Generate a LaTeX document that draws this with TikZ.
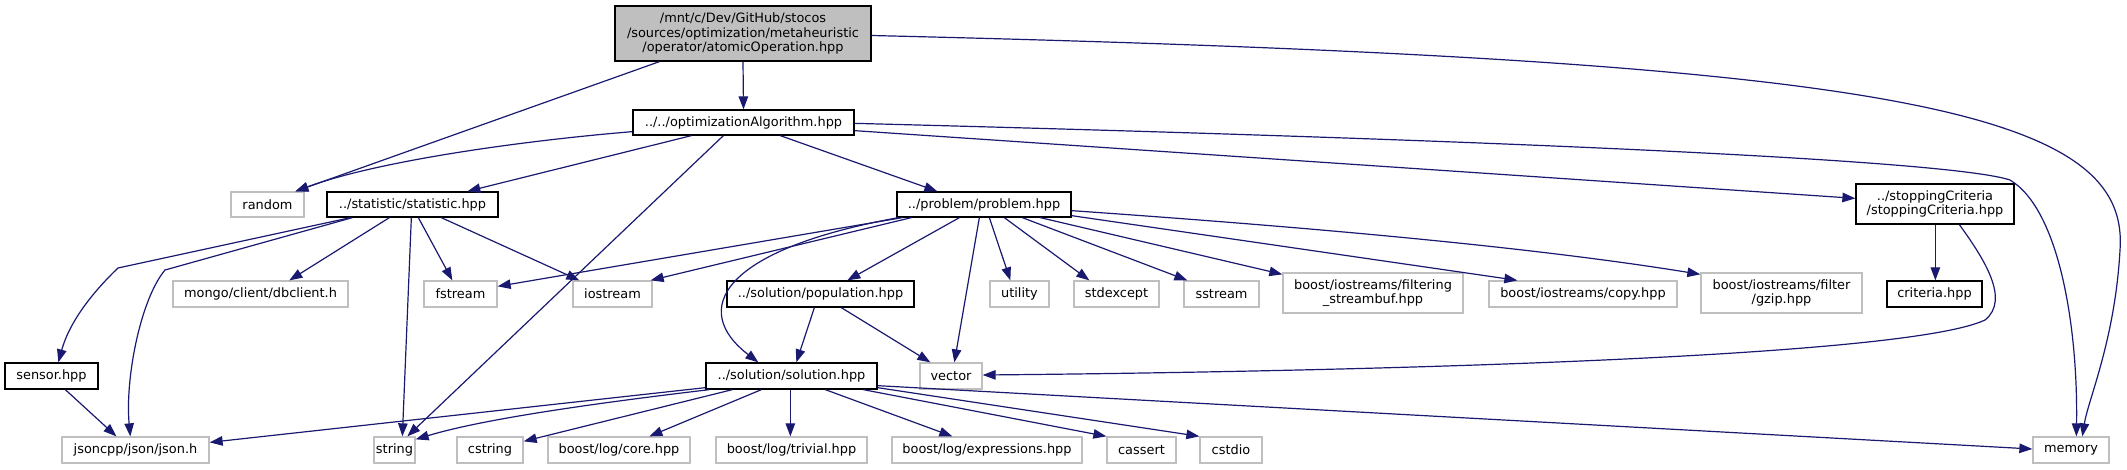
\documentclass[tikz,border=0pt]{standalone}
\usepackage{fontspec}
\setmainfont{DejaVu Sans}
\usetikzlibrary{arrows.meta,calc}
\definecolor{edgec}{HTML}{191970}
\definecolor{extc}{HTML}{BFBFBF}
\newcommand{\dxnode}[7]{\node[#6, minimum width={#4-#2}, minimum height={#5-#3}] (#1) at ({(#2+#4)/2},{(#3+#5)/2}) {#7};}
\begin{document}
\begin{tikzpicture}[x=1pt,y=-1pt,
  box/.style={rectangle, inner sep=0pt, align=center, font=\fontsize{12.9}{14.5}\selectfont},
  doc/.style={box, draw=black, line width=1.3pt, fill=white},
  ext/.style={box, draw=extc, line width=1.3pt, fill=white},
  mainn/.style={box, draw=black, line width=1.3pt, fill=extc},
  dep/.style={draw=edgec, line width=1.2pt, -{Triangle[length=13pt,width=9.5pt]}}]
\useasboundingbox (0,0) rectangle (2127,469);
\dxnode{main}{615}{6}{871}{61}{mainn}{/mnt/c/Dev/GitHub/stocos\\/sources/optimization/metaheuristic\\/operator/atomicOperation.hpp}
\dxnode{optalg}{633}{110}{854}{135}{doc}{../../optimizationAlgorithm.hpp}
\dxnode{random}{231}{192}{304}{217}{ext}{random}
\dxnode{stat}{327}{192}{498}{217}{doc}{../statistic/statistic.hpp}
\dxnode{problem}{897}{192}{1071}{217}{doc}{../problem/problem.hpp}
\dxnode{stop}{1856}{184}{2014}{224}{doc}{../stoppingCriteria\\/stoppingCriteria.hpp}
\dxnode{mongo}{173}{281}{348}{307}{ext}{mongo/client/dbclient.h}
\dxnode{fstream}{424}{281}{497}{307}{ext}{fstream}
\dxnode{iostream}{573}{281}{652}{307}{ext}{iostream}
\dxnode{pop}{727}{281}{914}{307}{doc}{../solution/population.hpp}
\dxnode{utility}{990}{281}{1049}{307}{ext}{utility}
\dxnode{stdexcept}{1074}{281}{1159}{307}{ext}{stdexcept}
\dxnode{sstream}{1184}{281}{1259}{307}{ext}{sstream}
\dxnode{filtering}{1283}{273}{1463}{313}{ext}{boost/iostreams/filtering\\\_streambuf.hpp}
\dxnode{copy}{1489}{281}{1677}{307}{ext}{boost/iostreams/copy.hpp}
\dxnode{gzip}{1701}{273}{1862}{313}{ext}{boost/iostreams/filter\\/gzip.hpp}
\dxnode{criteria}{1887}{281}{1982}{307}{doc}{criteria.hpp}
\dxnode{sensor}{5}{363}{98}{389}{doc}{sensor.hpp}
\dxnode{solution}{706}{363}{877}{389}{doc}{../solution/solution.hpp}
\dxnode{vector}{920}{363}{982}{389}{ext}{vector}
\dxnode{json}{62}{437}{209}{463}{ext}{jsoncpp/json/json.h}
\dxnode{string}{374}{437}{415}{463}{ext}{string}
\dxnode{cstring}{457}{437}{523}{463}{ext}{cstring}
\dxnode{core}{548}{437}{690}{463}{ext}{boost/log/core.hpp}
\dxnode{trivial}{716}{437}{867}{463}{ext}{boost/log/trivial.hpp}
\dxnode{expr}{892}{437}{1082}{463}{ext}{boost/log/expressions.hpp}
\dxnode{cassert}{1107}{437}{1176}{463}{ext}{cassert}
\dxnode{cstdio}{1200}{437}{1262}{463}{ext}{cstdio}
\dxnode{memory}{2033}{437}{2109}{463}{ext}{memory}
% main
\draw[dep] (main.south) -- (optalg.north);
\draw[dep] ($(main.south west)+(45,0)$) -- ($(random.north west)+(65,0)$);
\draw[dep] ($(main.east)+(0,2)$) .. controls (1900,60) and (2130,110) .. (2120,250) .. controls (2115,340) and (2088,400) .. ($(memory.north west)+(50,0)$);
% optimizationAlgorithm
\draw[dep] ($(optalg.south west)+(0,-4)$) .. controls (530,140) and (380,160) .. ($(random.north west)+(65,0)$);
\draw[dep] ($(optalg.south west)+(59,0)$) -- ($(stat.north west)+(141,0)$);
\draw[dep] ($(optalg.south west)+(91,0)$) -- ($(string.north west)+(34,0)$);
\draw[dep] ($(optalg.south west)+(148,0)$) -- ($(problem.north west)+(41,0)$);
\draw[dep] ($(optalg.south east)+(0,-5)$) -- ($(stop.north west)+(0,15)$);
\draw[dep] ($(optalg.north east)+(0,14)$) .. controls (1500,140) and (1950,160) .. (2010,180) .. controls (2060,210) and (2078,330) .. ($(memory.north west)+(44,0)$);
% statistic
\draw[dep] ($(stat.south west)+(24,0)$) -- (118,268) .. controls (95,290) and (70,320) .. ($(sensor.north west)+(54,0)$);
\draw[dep] ($(stat.south west)+(26,0)$) -- (165,270) .. controls (140,300) and (125,380) .. ($(json.north west)+(69,0)$);
\draw[dep] ($(stat.south west)+(63,0)$) -- ($(mongo.north west)+(117,0)$);
\draw[dep] ($(stat.south west)+(85,0)$) -- ($(string.north west)+(29,0)$);
\draw[dep] ($(stat.south west)+(92,0)$) -- ($(fstream.north west)+(29,0)$);
\draw[dep] ($(stat.south west)+(115,0)$) -- ($(iostream.north west)+(7,0)$);
% problem
\draw[dep] ($(problem.south west)+(6,0)$) -- ($(fstream.north east)+(0,6)$);
\draw[dep] ($(problem.south west)+(15,0)$) -- ($(iostream.north east)+(-2,0)$);
\draw[dep] ($(problem.south west)+(2,0)$) .. controls (720,250) and (690,310) .. ($(solution.north west)+(53,0)$);
\draw[dep] ($(problem.south west)+(63,0)$) -- ($(pop.north west)+(121,0)$);
\draw[dep] ($(problem.south west)+(83,0)$) -- ($(vector.north west)+(35,0)$);
\draw[dep] ($(problem.south west)+(93,0)$) -- ($(utility.north west)+(21,0)$);
\draw[dep] ($(problem.south west)+(108,0)$) -- ($(stdexcept.north west)+(16,0)$);
\draw[dep] ($(problem.south west)+(126,0)$) -- ($(sstream.north west)+(4,0)$);
\draw[dep] ($(problem.south west)+(144,0)$) -- ($(filtering.north west)+(0,2)$);
\draw[dep] ($(problem.south east)+(0,-2)$) -- ($(copy.north west)+(29,0)$);
\draw[dep] ($(problem.south east)+(0,-7)$) .. controls (1350,230) and (1550,250) .. ($(gzip.north west)+(0,2)$);
% population
\draw[dep] ($(pop.south west)+(88,0)$) -- ($(solution.north west)+(91,0)$);
\draw[dep] ($(pop.south west)+(115,0)$) -- ($(vector.north west)+(11,0)$);
% stoppingCriteria
\draw[dep] ($(stop.south west)+(80,0)$) -- ($(criteria.north west)+(49,0)$);
\draw[dep] ($(stop.south west)+(104,0)$) .. controls (1985,260) and (2010,300) .. (1985,320) .. controls (1900,360) and (1300,372) .. ($(vector.east)+(0,-1)$);
% sensor
\draw[dep] ($(sensor.south west)+(61,0)$) -- ($(json.north west)+(55,0)$);
% solution
\draw[dep] ($(solution.south west)+(0,-2)$) -- ($(json.north east)+(0,6)$);
\draw[dep] ($(solution.south west)+(4,0)$) .. controls (580,405) and (480,420) .. ($(string.north east)+(0,3)$);
\draw[dep] ($(solution.south west)+(27,0)$) -- ($(cstring.north east)+(0,5)$);
\draw[dep] ($(solution.south west)+(56,0)$) -- ($(core.north west)+(102,0)$);
\draw[dep] ($(solution.south west)+(85,0)$) -- ($(trivial.north west)+(75,0)$);
\draw[dep] ($(solution.south west)+(120,0)$) -- ($(expr.north west)+(61,0)$);
\draw[dep] ($(solution.south west)+(158,0)$) -- (cassert.north west);
\draw[dep] ($(solution.south east)+(0,-2)$) -- (cstdio.north west);
\draw[dep] ($(solution.south east)+(0,-4)$) -- ($(memory.west)+(0,-1)$);
\end{tikzpicture}
\end{document}
